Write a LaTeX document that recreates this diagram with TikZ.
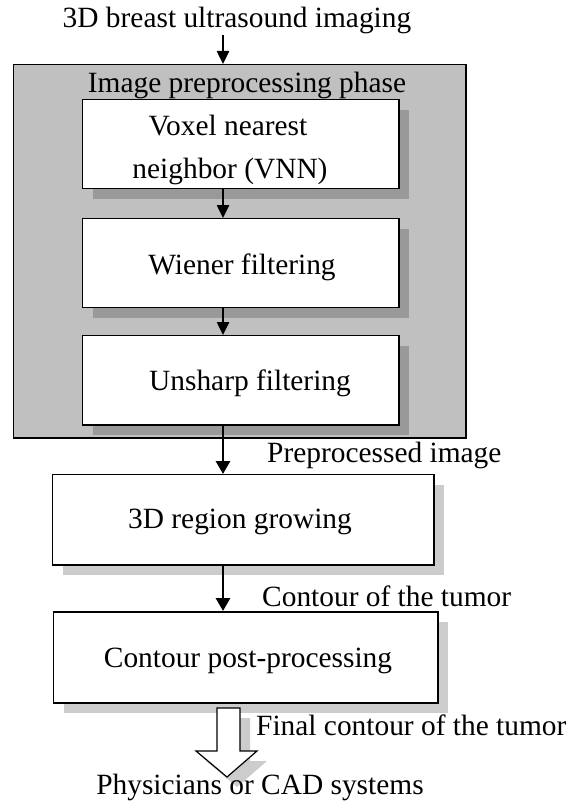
\documentclass[tikz,border=0pt]{standalone}
\usepackage{fontspec}
\setmainfont{Liberation Serif}
\usetikzlibrary{positioning, arrows.meta, shadows}
\definecolor{Panel}{HTML}{C0C0C0}
\tikzset{
    stepbox/.style={rectangle, draw=black, line width=1.5pt, fill=white, anchor=north west, inner sep=0pt,
        drop shadow={shadow xshift=10bp, shadow yshift=-10bp, fill=black, opacity=0.2}},
    steptext/.style={inner sep=0pt, anchor=base, font=\fontsize{29.5}{35}\selectfont},
    phasebox/.style={rectangle, draw=black, line width=1.5pt, fill=Panel, anchor=north west, inner sep=0pt},
    arrow/.style={-{Triangle[length=13bp, width=12bp]}, line width=2.5pt},
    bigarrow/.style={-{Triangle[length=13bp, width=14bp]}, line width=3pt},
}

\begin{document}
\begin{tikzpicture}[x=1bp, y=-1bp]
    \useasboundingbox (0,0) rectangle (576,803);
    \coordinate (axis) at (223,0);

    % Input
    \node[steptext] (title) at (237,28) {3D breast ultrasound imaging};

    % Preprocessing phase
    \node[phasebox, minimum width=452bp, minimum height=373bp] (phase) at (13,64) {};
    \node[steptext] (phaselabel) at (247,92) {Image preprocessing phase};

    \node[stepbox, minimum width=316bp, minimum height=89bp] (vnn) at (82,99) {};
    \node[steptext] (vnnone) at (228,135) {Voxel nearest};
    \node[steptext] (vnntwo) at (230,178) {neighbor (VNN)};

    \node[stepbox, minimum width=316bp, minimum height=89bp] (wiener) at (82,218) {};
    \node[steptext] (wienertext) at (242,274) {Wiener filtering};

    \node[stepbox, minimum width=316bp, minimum height=89bp] (unsharp) at (82,335) {};
    \node[steptext] (unsharptext) at (250,390) {Unsharp filtering};

    % Segmentation
    \node[stepbox, minimum width=381bp, minimum height=90bp] (growing) at (52,474) {};
    \node[steptext] (growingtext) at (240,528) {3D region growing};

    \node[stepbox, minimum width=384bp, minimum height=91bp] (post) at (53,611) {};
    \node[steptext] (posttext) at (248,667) {Contour post-processing};

    % Arrows
    \draw[arrow] (title.south -| axis) -- (phase.north -| axis);
    \draw[arrow] (vnn.south -| axis) -- (wiener.north -| axis);
    \draw[arrow] (wiener.south -| axis) -- (unsharp.north -| axis);
    \draw[bigarrow] (unsharp.south -| axis) -- (growing.north -| axis);
    \draw[bigarrow] (growing.south -| axis) -- (post.north -| axis);

    % Edge labels
    \node[steptext, anchor=base west] (preproc) at (267,462) {Preprocessed image};
    \node[steptext, anchor=base west] (contour) at (262,606) {Contour of the tumor};

    % Output
    \draw[line width=1.2pt, fill=white, drop shadow={shadow xshift=10bp, shadow yshift=-10bp, fill=black, opacity=0.2}]
        (217,708) -- (240,708) -- (240,751) -- (257,751) -- (227,777) -- (196,751) -- (217,751) -- cycle;
    \node[steptext, anchor=base west] (final) at (256,735) {Final contour of the tumor};
    \node[steptext] (output) at (260,794) {Physicians or CAD systems};
\end{tikzpicture}
\end{document}
